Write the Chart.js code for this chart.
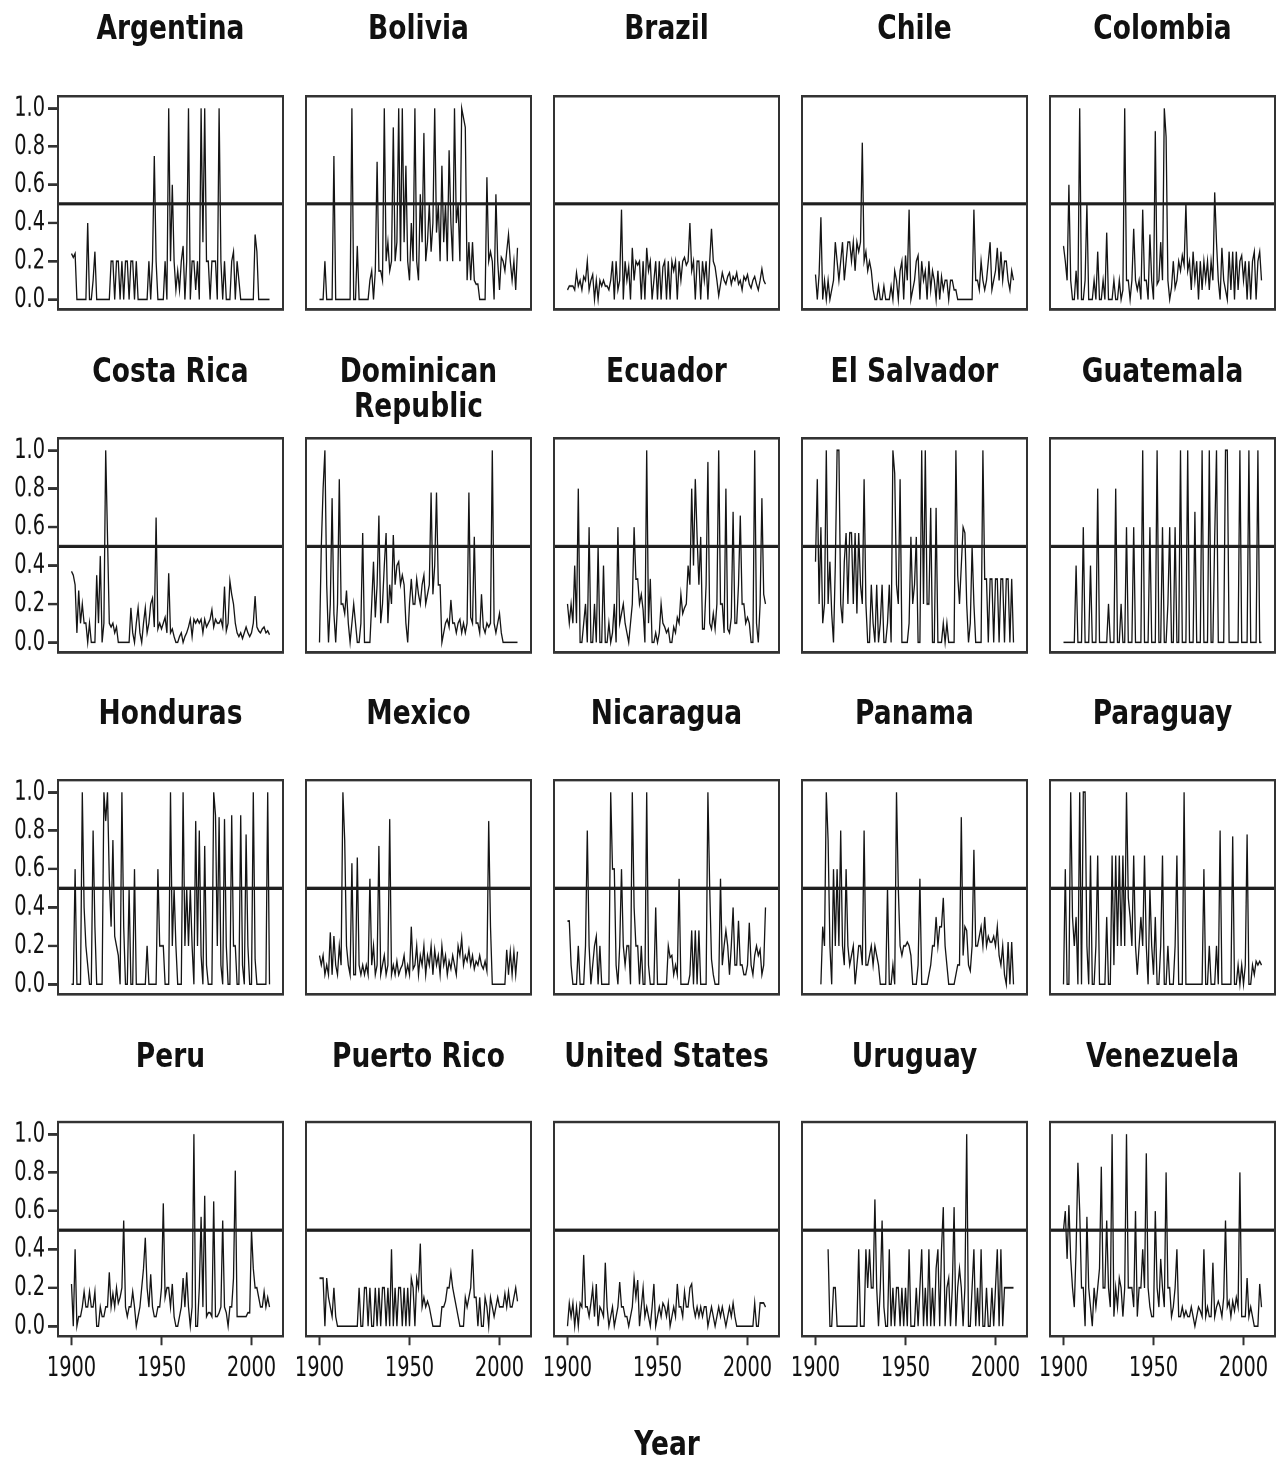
<!DOCTYPE html>
<html>
<head>
<meta charset="utf-8">
<script src="https://cdn.jsdelivr.net/npm/chart.js@4.4.1/dist/chart.umd.min.js"></script>
<style>
html, body { margin: 0; padding: 0; background: #fff; }
#fig { position: absolute; left: 0; top: 0; width: 1281px; transform-origin: 0 0; }
#fig canvas { position: absolute; }
.ttl { position: absolute; text-align: center; font-family: 'DejaVu Sans', sans-serif; font-weight: bold;
       font-size: 26.5px; color: #111; white-space: pre; }
</style>
</head>
<body>
<div id="fig"></div>
<script>
// the reference is drawn stretched vertically, so everything is laid out flat and scaled by K
const K = 1.3;

const countries = ['Argentina', 'Bolivia', 'Brazil', 'Chile', 'Colombia',
                   'Costa Rica', 'Dominican\nRepublic', 'Ecuador', 'El Salvador', 'Guatemala',
                   'Honduras', 'Mexico', 'Nicaragua', 'Panama', 'Paraguay',
                   'Peru', 'Puerto Rico', 'United States', 'Uruguay', 'Venezuela'];
const firstYear = 1900, lastYear = 2010;
const yTicks = [0, 0.2, 0.4, 0.6, 0.8, 1.0];
const xTicks = [1900, 1950, 2000];
const threshold = 0.5;
const xTitle = 'Year';

// one value per year, 1900..2010
const argentina = [
  .24,.22,.24,0,0,0,0,0,0,.4,
  0,0,.1,.25,0,0,0,0,0,0,
  0,0,.2,.2,0,.2,.2,0,.2,0,
  .2,.2,0,.2,.2,0,.2,0,0,0,
  0,0,0,.2,0,.2,.75,.2,0,0,
  0,0,.2,0,1,.2,.6,.2,.05,.15,
  .05,.2,.28,0,.2,1,0,.2,.2,.05,
  .2,0,1,.3,1,.2,.2,0,.2,.2,
  .2,0,1,.2,0,.2,0,0,0,.2,
  .25,0,.2,.1,0,0,0,0,0,0,
  0,0,.34,.25,0,0,0,0,0,0,0];
const bolivia = [
  0,0,0,.2,0,0,0,0,.75,0,
  0,0,0,0,0,0,0,0,1,0,
  0,.28,0,0,0,0,0,0,.1,.15,
  0,.15,.72,.15,.15,.1,1,.2,.3,.15,
  .2,.9,.2,.3,1,.2,1,.3,.7,.2,
  .1,.4,.2,1,.2,.1,.55,.3,.87,.2,
  .3,.5,.25,.4,1,.35,.5,.2,.7,.3,
  .5,.2,.78,.4,.2,1,.4,.5,.2,1,
  .95,.9,.1,.3,.1,.3,.1,.08,.08,0,
  0,0,0,.64,.2,.25,.2,0,.55,.2,
  .05,.22,.2,.15,.25,.34,.2,.1,.2,.05,.27];
const brazil = [
  .05,.07,.07,.07,.05,.14,.07,.1,.05,.12,
  .1,.2,.05,.1,.13,0,.1,0,.1,.07,
  .1,.07,.07,.05,.1,.2,0,.2,.05,.1,
  .47,0,.2,.1,.17,0,.27,.1,.2,.18,
  .2,0,.2,0,.27,.15,.2,0,.1,.2,
  0,.2,0,.17,.2,0,.2,0,.2,.15,
  .2,0,.2,.1,.2,.22,.18,.2,.4,.15,
  .2,0,.2,.2,0,.2,.1,.2,0,.2,
  .37,.2,.17,.1,.02,.08,.14,.1,.08,.12,
  .14,.08,.12,.1,.14,.08,.1,.05,.12,.1,
  .13,.08,.06,.1,.12,.08,.05,.1,.16,.1,.08];
const chile = [
  .13,0,.13,.43,0,.1,0,.1,0,.05,
  .1,.3,.2,.1,.2,.3,.1,.2,.3,.3,
  .2,.3,.15,.3,.25,.3,.82,.2,.25,.15,
  .2,.15,.05,0,0,.07,0,0,.07,0,
  0,0,.07,0,.15,.1,0,.15,.2,0,
  .23,.1,.47,0,.05,.1,.2,.23,0,.2,
  .1,.15,0,.2,.05,.15,.1,0,.15,0,
  .12,.05,.1,.1,0,.1,.1,.05,.05,0,
  0,0,0,0,0,0,0,0,.47,.1,
  .1,.05,.2,.1,.05,.1,.2,.3,.05,.1,
  .15,.27,.1,.25,.1,.2,.2,.1,.05,.15,.1];
const colombia = [
  .28,.2,.1,.6,.1,0,0,.15,0,1,
  0,0,.1,.5,0,0,0,.1,0,.25,
  0,0,.1,0,.35,0,0,0,.1,0,
  0,.1,0,.05,1,.1,.1,0,.1,.37,
  .1,.05,.1,0,.47,.1,.1,0,.34,.1,
  0,.88,.08,.1,.3,.1,1,.85,.1,0,
  .06,.2,.06,.1,.2,.15,.23,.18,.5,.15,
  .2,.05,.25,.1,.2,0,.2,.05,.2,.1,
  .2,.05,.2,.1,.56,.3,.1,0,.27,.1,
  .05,0,.25,.05,.25,0,.25,.05,.2,.23,
  .1,.2,0,.2,0,.2,.25,0,.2,.25,.1];
const costaRica = [
  .37,.35,.3,.05,.27,.1,.2,.1,.1,0,
  .1,0,0,0,.35,.1,.45,0,.1,1,
  .55,.1,.08,.1,.05,.08,0,0,0,0,
  0,0,0,.18,.05,0,.1,.18,.05,0,
  .1,.18,.05,.1,.2,.23,.08,.65,.07,.1,
  .07,.1,.13,.05,.36,.05,.07,.03,0,0,
  .03,.05,0,.03,.05,.08,.12,.03,.12,.1,
  .12,.1,.12,.05,.12,.08,.1,.12,.17,.08,
  .12,.1,.1,.12,.08,.29,.06,.1,.32,.25,
  .2,.1,.05,.03,.05,.02,.05,.08,.05,.03,
  .05,.1,.24,.08,.06,.05,.07,.08,.05,.06,.04];
const dominican = [
  0,.5,.8,1,.3,0,.2,.75,.15,0,
  .2,.85,.2,.2,.15,.27,.1,0,.1,.2,
  .1,0,0,.1,.57,0,0,0,0,.2,
  .42,.13,.3,.66,.1,.2,.4,.57,.1,.3,
  .2,.56,.3,.4,.42,.3,.35,.3,.1,0,
  .2,.33,.2,.2,.33,.25,.2,.3,.35,.2,
  .25,.3,.78,.25,.4,.78,.3,.3,0,.05,
  .1,.12,.08,.22,.1,.1,.05,.1,.12,.05,
  .1,.05,.1,.78,.13,.1,.55,.1,.1,.05,
  .25,.08,.05,.1,.08,.1,1,.1,.05,.1,
  .15,.05,0,0,0,0,0,0,0,0,0];
const ecuador = [
  .2,.1,.2,.1,.4,.1,.8,0,0,.1,
  .2,0,.6,0,0,.2,0,.5,0,0,
  .4,0,0,.1,0,.05,.2,0,.6,.1,
  .15,.2,.1,.05,0,.1,.2,.6,.33,.33,
  .2,.25,.17,0,1,.1,.33,0,0,.05,
  0,.05,.2,.1,.08,.05,.07,0,0,.08,
  .05,.13,.1,.25,.15,.18,.2,.4,.3,.8,
  .4,.85,.55,.3,.55,.07,.07,.3,.94,.1,
  .07,.15,.07,.2,1,.2,.2,.05,.8,.07,
  .05,.13,.68,.1,.1,.3,.66,.2,.2,.1,
  .13,.1,0,0,1,.1,0,.2,.75,.25,.2];
const elSalvador = [
  .42,.85,.2,.6,.1,.2,1,.2,.42,.15,
  0,.4,1,1,.2,.1,.42,.57,.2,.57,
  .57,.2,.57,.15,.57,.3,.2,.85,.2,0,
  0,.3,.1,0,.3,0,.1,.3,0,0,
  .1,.3,0,1,.88,.3,.2,.85,0,0,
  0,0,.1,.55,.2,.3,.55,0,0,1,
  .2,1,.2,.2,.7,0,0,.7,0,0,
  0,.1,0,.1,0,0,0,0,1,.35,
  .2,.4,.6,.57,.2,0,.1,.5,.2,0,
  0,0,0,1,.33,.33,0,.33,.33,0,
  .33,.33,0,.33,.33,0,.33,.33,0,.33,0];
const guatemala = [
  0,0,0,0,0,0,0,.4,0,0,
  0,.6,0,0,0,.4,0,0,0,.8,
  0,0,0,0,0,.2,0,0,0,.8,
  0,0,.2,0,0,.6,0,0,0,.6,
  0,0,0,0,1,0,0,0,.6,0,
  0,0,1,0,0,.6,0,0,.2,.6,
  0,0,.6,0,0,1,0,0,0,1,
  0,0,0,.68,0,0,0,1,0,0,
  0,1,0,0,.55,1,0,0,0,0,
  1,1,0,0,0,0,0,0,1,0,
  0,0,0,1,0,0,0,0,1,0,0];
const honduras = [
  0,0,.6,0,0,0,1,.4,.2,.1,
  0,0,.8,.3,0,0,0,0,1,.85,
  1,.55,.3,.75,.25,.2,.15,0,1,.3,
  0,0,.5,0,0,.6,0,0,0,0,
  0,0,.2,0,0,0,0,0,.6,.2,
  .2,.2,0,0,0,1,.2,.5,.2,0,
  0,0,1,.2,.5,.2,.5,.2,0,.85,
  .2,.8,.15,0,.72,.1,0,0,0,1,
  .88,.2,.87,.1,0,.86,.2,0,0,.88,
  .2,.2,0,0,.88,.1,0,.78,.2,0,
  0,1,.13,0,0,0,0,0,0,1,0];
const mexico = [
  .15,.1,.15,.05,.1,.05,.27,.05,.25,.1,
  .05,.2,.1,1,.75,.2,.1,.05,.63,.05,
  .05,.66,.1,.05,.1,.05,.1,.05,.55,.1,
  .2,.05,.1,.72,.05,.1,.15,.05,.1,.86,
  .05,.1,.05,.12,.05,.08,.1,.15,.05,.1,
  .05,.3,.08,.1,.2,.05,.15,.1,.2,.05,
  .15,.1,.2,.05,.18,.1,.15,.05,.2,.1,
  .15,.05,.12,.08,.15,.1,.05,.2,.15,.24,
  .1,.15,.12,.18,.1,.15,.08,.12,.1,.15,
  .1,.08,.12,.07,.85,.3,0,0,0,0,
  0,0,0,0,.18,.05,.17,.05,.17,.05,.17];
const nicaragua = [
  .33,.33,.1,0,0,0,.2,0,0,0,
  .2,.8,.2,0,.1,.2,.25,0,.2,0,
  0,0,0,0,1,.6,.6,.1,0,.2,
  .6,.2,.1,.2,.2,0,1,.4,.2,.2,
  0,.2,0,0,1,.1,0,0,0,.4,
  0,0,0,0,0,0,.2,.14,.15,.05,
  .1,.05,.55,0,0,0,0,0,.05,.28,
  0,.28,0,.28,0,0,0,0,1,.5,
  .13,.05,0,0,0,.55,.1,.2,.28,.2,
  .05,.2,.4,.1,.1,.33,.1,.1,.05,.05,
  .1,.32,.1,.05,.15,.2,.15,.18,.05,.1,.4];
const panama = [
  null,null,null,0,.3,.2,1,.75,.2,0,
  .6,.2,.6,.2,.8,.2,.1,.6,.2,.1,
  .15,.2,0,.1,.2,.2,.1,.8,.1,.1,
  .15,.2,.1,.2,.15,.1,0,0,0,0,
  .5,0,0,.1,0,1,.5,.2,.15,.2,
  .2,.22,.2,.15,0,0,0,.1,.55,0,
  0,0,0,.05,.1,.2,.2,.35,.2,.3,
  .3,.45,.2,.1,0,0,0,0,.05,.1,
  .1,.87,.15,.3,.28,.1,.07,.2,.7,.2,
  .2,.25,.3,.2,.35,.2,.25,.22,.22,.25,
  .2,.3,.15,.1,.2,.05,0,.22,0,.22,0];
const paraguay = [
  0,.6,0,0,1,.35,.2,.35,0,1,
  0,1,1,.2,0,.67,0,0,.2,.67,
  0,0,0,0,.35,0,0,.67,.1,.67,
  .2,.67,.2,.67,.2,1,.45,.35,.2,.67,
  .2,.05,.2,.35,.2,.67,.2,0,.5,.2,
  .05,.35,0,0,.2,.67,0,0,.2,0,
  0,0,.2,.67,0,0,0,1,0,0,
  0,0,0,0,0,0,0,0,.6,0,
  0,.2,0,0,0,.2,0,.8,0,0,
  0,0,0,0,.77,0,0,.1,0,.1,
  0,.1,.78,0,0,.1,.05,.12,.1,.12,.1];
const peru = [
  .22,0,.4,0,.05,.05,.1,.18,.1,.1,
  .18,.1,.1,.18,0,0,.1,.05,.05,.1,
  .1,.28,.1,.17,.1,.2,.12,.15,.2,.55,
  .1,.05,.1,.1,.18,.1,0,.05,.1,.2,
  .3,.46,.2,.1,.27,.1,.05,.05,.1,.1,
  .2,.64,.15,.2,.2,.1,.22,.05,0,0,
  .05,.1,.25,.1,.28,.1,0,.1,1,0,
  0,.2,.57,.1,.68,.05,.07,.07,.05,.65,
  .05,.05,.07,.1,.55,.1,.07,0,.1,.1,
  .25,.81,.05,.05,.05,.05,.05,.05,.07,.07,
  .5,.3,.2,.2,.15,.1,.1,.18,.1,.15,.1];
const puertoRico = [
  .25,.25,.25,0,.25,.15,.1,.05,.2,.05,
  0,0,0,0,0,0,0,0,0,0,
  0,0,.2,0,0,.2,.2,0,.2,0,
  0,.2,0,.2,0,.2,.2,0,.2,0,
  .4,0,.2,0,.2,.2,0,.2,0,.2,
  0,.25,.2,0,.25,.2,.43,.1,.15,.1,
  .13,.1,.05,0,0,0,0,0,.1,.1,
  .13,.2,.2,.28,.2,.15,.1,.05,0,0,
  0,.15,.1,.15,.2,.4,.15,.15,0,.15,
  0,0,.15,.1,0,.15,.1,.05,.1,.15,
  .1,.1,.1,.17,.1,.18,.1,.1,.15,.2,.13];
const unitedStates = [
  0,.12,.05,.12,0,.1,0,.12,.1,.37,
  .1,.1,.05,.12,.2,.05,.22,0,.1,.08,
  .05,.33,.1,0,.05,.1,0,.05,.1,.23,
  .1,.1,.05,.05,0,.05,.1,.25,.15,.24,
  0,.1,.2,.05,.1,.05,0,.1,.22,0,
  .05,.1,.05,.12,.1,.05,.12,0,.05,.1,
  .05,.22,.1,.1,.05,.18,.1,.1,.2,.22,
  .1,.05,.1,.05,.1,.05,.1,.1,0,.05,
  .1,.05,0,.05,.1,.05,.1,.05,0,.05,
  .1,.05,.12,.05,0,0,0,0,0,0,
  0,0,0,0,.12,0,0,.12,.12,.12,.1];
const uruguay = [
  null,null,null,null,null,null,null,.4,0,0,
  .2,.2,0,0,0,0,0,0,0,0,
  0,0,0,0,.4,0,0,0,.4,.2,
  .4,.2,.2,.66,.2,0,.2,.55,.1,0,
  0,.4,0,.2,0,.2,.2,0,.2,0,
  .2,0,.4,0,0,0,.2,0,.2,.4,
  0,.2,0,.4,0,.2,0,.3,.4,0,
  .4,.62,0,.2,.25,0,.2,.62,0,.2,
  .3,.2,0,.2,1,0,0,.2,.4,0,
  .2,0,.4,0,0,.2,0,0,.2,0,
  .2,.4,0,.4,0,.2,.2,.2,.2,.2,.2];
const venezuela = [
  .5,.6,.35,.63,.35,.2,.1,.4,.85,.6,
  .2,.2,0,.57,.2,.1,0,.2,.1,.2,
  .3,.83,.2,.2,.55,.2,.1,1,.05,.2,
  .1,.25,.2,.05,.2,1,.2,.2,.2,.1,
  .6,.05,.2,.2,.4,.2,.9,.2,.1,.05,
  .05,.6,.2,.1,.35,.2,.1,.8,.2,.2,
  .05,.1,.2,.4,.05,.05,.1,.05,.08,.05,
  .05,.1,.05,0,.05,.1,.08,.05,.4,.05,
  .1,.05,.05,.33,.05,.1,.13,.1,.05,.15,
  .55,.1,.13,.05,.13,.08,.15,.1,.8,.05,
  .05,.05,.25,.05,.1,.05,0,0,0,.22,.1];

const series = [argentina, bolivia, brazil, chile, colombia,
                costaRica, dominican, ecuador, elSalvador, guatemala,
                honduras, mexico, nicaragua, panama, paraguay,
                peru, puertoRico, unitedStates, uruguay, venezuela];

const years = [];
for (let y = firstYear; y <= lastYear; y++) years.push(y);

// layout, in page pixels of the stretched picture
const boxLeft0 = 58, colStep = 248, boxW = 225, boxH = 214;
const rowTops = [96, 438, 780, 1122];
const titleYs = [27, 370, 712, 1055];
const axisW = 60, axisH = 40, padTop = 18, padRight = 4;
const titleLine = 36;

const fig = document.getElementById('fig');
fig.style.height = (1458 / K) + 'px';
fig.style.transform = 'scaleY(' + K + ')';

const tickFont = { family: "'DejaVu Sans Condensed', 'DejaVu Sans', sans-serif", size: 21.5 };

// box round the plot and the 0.5 reference line
const framePlugin = {
  id: 'frame',
  afterDatasetsDraw: function(chart) {
    const a = chart.chartArea, ctx = chart.ctx;
    const y = chart.scales.y.getPixelForValue(threshold);
    ctx.save();
    ctx.strokeStyle = '#1e1e1e';
    ctx.lineWidth = 2.4;
    ctx.beginPath();
    ctx.moveTo(a.left, y);
    ctx.lineTo(a.right, y);
    ctx.stroke();
    ctx.strokeStyle = '#333';
    ctx.lineWidth = 2;
    ctx.strokeRect(a.left, a.top, a.right - a.left, a.bottom - a.top);
    ctx.restore();
  }
};

function addTitle(text, cx, cy) {
  const d = document.createElement('div');
  d.className = 'ttl';
  d.textContent = text;
  d.style.width = colStep + 'px';
  d.style.left = (cx - colStep / 2) + 'px';
  d.style.lineHeight = (titleLine / K) + 'px';
  d.style.top = (cy / K - titleLine / K / 2) + 'px';
  fig.appendChild(d);
}

countries.forEach(function(name, i) {
  const col = i % 5, row = Math.floor(i / 5);
  const left = boxLeft0 + col * colStep;
  const top = rowTops[row];
  const showY = col === 0, showX = row === 3;

  addTitle(name, left + boxW / 2, titleYs[row]);

  const cv = document.createElement('canvas');
  const w = axisW + boxW + padRight, h = padTop + boxH / K + axisH;
  cv.width = w;
  cv.height = h;
  cv.style.left = (left - axisW) + 'px';
  cv.style.top = (top / K - padTop) + 'px';
  cv.style.width = w + 'px';
  cv.style.height = h + 'px';
  fig.appendChild(cv);

  const vals = series[i];
  new Chart(cv.getContext('2d'), {
    type: 'line',
    data: {
      datasets: [{
        data: years.map(function(yr, k) { return { x: yr, y: vals[k] }; }),
        borderColor: '#141414',
        borderWidth: 1.3,
        pointRadius: 0,
        tension: 0,
        fill: false,
        spanGaps: false
      }]
    },
    options: {
      responsive: false,
      animation: false,
      devicePixelRatio: 2,
      events: [],
      layout: { padding: { top: padTop, right: padRight, left: 0, bottom: 0 } },
      plugins: { legend: { display: false }, tooltip: { enabled: false } },
      scales: {
        x: {
          type: 'linear', min: 1892.5, max: 2017.5,
          afterBuildTicks: function(s) { s.ticks = xTicks.map(function(v) { return { value: v }; }); },
          afterFit: function(s) { s.height = axisH; },
          border: { display: false },
          grid: { display: showX, drawOnChartArea: false, drawTicks: true, tickLength: 7, color: '#333', lineWidth: 2 },
          ticks: { display: showX, color: '#111', font: tickFont, padding: 5, maxRotation: 0, autoSkip: false,
                   callback: function(v) { return String(v); } }
        },
        y: {
          min: -0.052, max: 1.063,
          afterBuildTicks: function(s) { s.ticks = yTicks.map(function(v) { return { value: v }; }); },
          afterFit: function(s) { s.width = axisW; },
          border: { display: false },
          grid: { display: showY, drawOnChartArea: false, drawTicks: true, tickLength: 10, color: '#333', lineWidth: 2 },
          ticks: { display: showY, color: '#111', font: tickFont, padding: 3, autoSkip: false,
                   callback: function(v) { return v.toFixed(1); } }
        }
      }
    },
    plugins: [framePlugin]
  });
});

addTitle(xTitle, 667, 1443);
</script>
</body>
</html>
